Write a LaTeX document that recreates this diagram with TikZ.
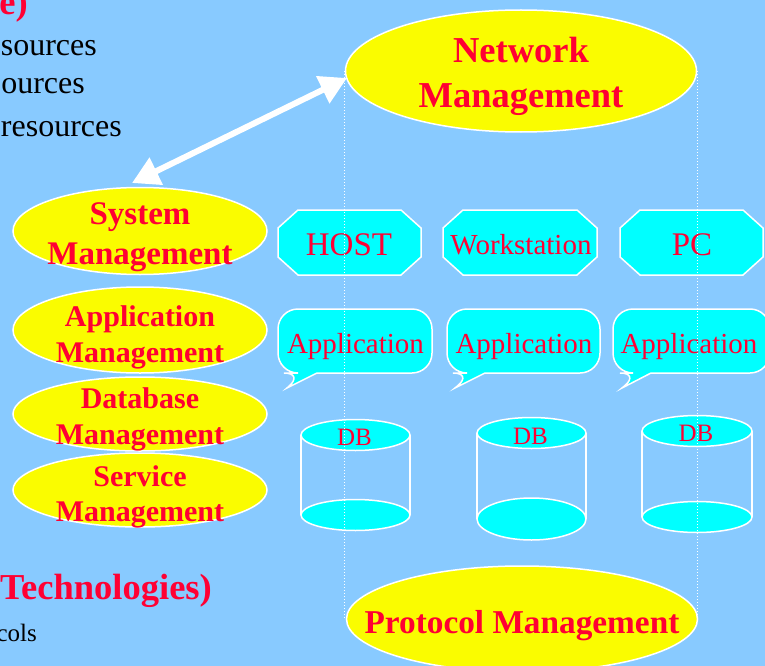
\documentclass[tikz,border=0pt]{standalone}
\usepackage{fontspec}
\setmainfont{Liberation Serif}
\usetikzlibrary{shapes.geometric,arrows.meta,calc}
\definecolor{bg}{RGB}{136,202,255}
\definecolor{ye}{RGB}{250,252,0}
\definecolor{cy}{RGB}{0,255,255}
\definecolor{rd}{RGB}{255,0,51}
\tikzset{
  mg/.style={ellipse, fill=ye, draw=white, line width=1.5pt, inner sep=0pt},
  mgt/.style={text=rd, align=center, inner sep=0pt},
  cyt/.style={text=rd, inner sep=0pt, anchor=base, font=\fontsize{29}{34}\selectfont},
  cytbig/.style={cyt, font=\fontsize{33}{38}\selectfont},
  dbt/.style={text=rd, inner sep=0pt, anchor=base, font=\fontsize{25}{30}\selectfont},
  shp/.style={fill=cy, draw=white, line width=1.5pt},
  side/.style={draw=white, line width=1.5pt},
  plaintxt/.style={text=black, inner sep=0pt, anchor=base east, font=\fontsize{32}{38}\selectfont},
  redtxt/.style={text=rd, inner sep=0pt, anchor=base east, font=\bfseries\fontsize{36.5}{42}\selectfont},
  guide/.style={draw=white, line width=1.3pt, dash pattern=on 1.3pt off 1.7pt},
  bigarrow/.style={draw=white, line width=6pt, {Triangle[length=27pt,width=29pt]}-{Triangle[length=27pt,width=29pt]}}
}
\newcommand\octshape[3]{%
  \begin{scope}[shift={(#1,#2)}]
    \path[shp] (-#3+20,-32.5) -- (#3-20,-32.5) -- (#3,-14.5) -- (#3,14.5) -- (#3-20,32.5) -- (-#3+20,32.5) -- (-#3,14.5) -- (-#3,-14.5) -- cycle;
  \end{scope}}
\newcommand\bubble[5]{%
  \path[shp] ({(#1+#2)/2},309) [rounded corners=20pt] -- (#1,309) -- (#1,373) -- (#4,373) [sharp corners] -- (#3,388) -- (#5,373) [rounded corners=20pt] -- (#2,373) -- (#2,309) -- cycle;}
\newcommand\cylshape[6]{% L R ytop rytop ybot rybot
  \draw[side] (#1,#3) -- (#1,#5) (#2,#3) -- (#2,#5);
  \path[shp] ({(#1+#2)/2},#5) ellipse [x radius={(#2-#1)/2}, y radius=#6];
  \path[shp] ({(#1+#2)/2},#3) ellipse [x radius={(#2-#1)/2}, y radius=#4];}
\begin{document}
\begin{tikzpicture}[x=1pt,y=-1pt]
\useasboundingbox (0,0) rectangle (765,666);
\fill[bg] (0,0) rectangle (765,666);
\clip (0,0) rectangle (765,666);

% left partial texts
\node[redtxt] (t0) at (28,15) {e)};
\node[plaintxt] (t1) at (97,56) {sources};
\node[plaintxt] (t2) at (85,94) {ources};
\node[plaintxt] (t3) at (122,136) {resources};
\node[redtxt] (t4) at (212,599) {Technologies)};
\node[plaintxt, font=\fontsize{25}{30}\selectfont] (t5) at (37,641) {cols};

% network & protocol management
\node[mg, minimum width=351, minimum height=122] (net) at (521,71) {};
\node[mgt, font=\bfseries\fontsize{36.5}{45}\selectfont] (nett) at (521,76) {Network\\Management};
\node[mg, minimum width=351, minimum height=106] (prot) at (522,619) {};
\node[mgt, anchor=base, font=\bfseries\fontsize{33.3}{40}\selectfont] (prott) at (522,633) {Protocol Management};

% left management ellipses
\node[mg, minimum width=254, minimum height=87] (sys) at (140,231) {};
\node[mgt, font=\bfseries\fontsize{33}{40}\selectfont] (syst) at (140,237) {System\\Management};
\node[mg, minimum width=254, minimum height=86] (app) at (140,330) {};
\node[mgt, font=\bfseries\fontsize{30}{36}\selectfont] (appt) at (140,337) {Application\\Management};
\node[mg, minimum width=254, minimum height=74] (db) at (140,414) {};
\node[mgt, font=\bfseries\fontsize{30}{36}\selectfont] (dbt) at (140,419) {Database\\Management};
\node[mg, minimum width=254, minimum height=74] (svc) at (140,490) {};
\node[mgt, font=\bfseries\fontsize{30}{35}\selectfont] (svct) at (140,497) {Service\\Management};

% octagons
\octshape{349.5}{242.5}{71.5}
\octshape{520}{242.5}{77}
\octshape{691.5}{242.5}{71.5}
\node[cytbig] (host) at (349,255) {HOST};
\node[cyt] (ws) at (521,254) {Workstation};
\node[cytbig] (pc) at (692,255) {PC};

% callouts
\bubble{278}{432}{287}{304}{317}
\bubble{447}{600}{455}{473}{485}
\bubble{613}{770}{622}{640}{651}
\node[cyt] (app1) at (355.5,353) {Application};
\node[cyt] (app2) at (524,353) {Application};
\node[cyt] (app3) at (689,353) {Application};

% cylinders
\cylshape{301}{410}{435}{15.5}{515}{15.5}
\cylshape{477}{586}{433}{15.5}{519}{21}
\cylshape{642}{752}{431}{15.5}{517}{15.5}
\node[dbt] (db1) at (354.5,445) {DB};
\node[dbt] (db2) at (530.5,444) {DB};
\node[dbt] (db3) at (696,441) {DB};

% guides
\draw[guide] (net.west) -- (net.west |- prot.west);
\draw[guide] (net.east) -- (net.east |- prot.east);

% double arrow
\coordinate (a1) at (132,183);
\coordinate (a2) at (347,78);
\draw[bigarrow] (a1) -- (a2);
\end{tikzpicture}
\end{document}
